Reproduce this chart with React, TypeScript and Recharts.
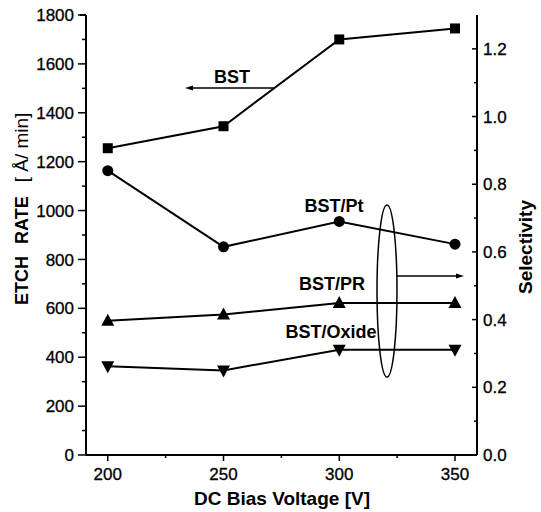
import React from "react";
import { LineChart, Line, XAxis, YAxis, Customized } from "recharts";

const voltages = [200, 250, 300, 350];
const bstRate = [1255, 1345, 1700, 1745];
const bstPt = [0.84, 0.615, 0.69, 0.623];
const bstPr = [0.397, 0.415, 0.449, 0.449];
const bstOxide = [0.262, 0.25, 0.311, 0.311];

const xTicks = [200, 225, 250, 275, 300, 325, 350];
const xMajor = [200, 250, 300, 350];
const leftTicks = [0, 100, 200, 300, 400, 500, 600, 700, 800, 900, 1000, 1100, 1200, 1300, 1400, 1500, 1600, 1700, 1800];
const rightTicks = [0, 0.1, 0.2, 0.3, 0.4, 0.5, 0.6, 0.7, 0.8, 0.9, 1.0, 1.1, 1.2];
const rightMajor = [0, 0.2, 0.4, 0.6, 0.8, 1.0, 1.2];

const data = voltages.map((v, i) => ({
  v,
  bst: bstRate[i],
  pt: bstPt[i],
  pr: bstPr[i],
  ox: bstOxide[i],
}));

const FONT = "'Liberation Sans', Arial, Helvetica, sans-serif";

const isMajor = (list: number[], v: number) => list.some((m) => Math.abs(m - v) < 1e-6);

const BottomTick = (p: any) => {
  const major = isMajor(xMajor, p.payload.value);
  return (
    <g>
      <line x1={p.x} x2={p.x} y1={p.y} y2={p.y + (major ? 6 : 3)} stroke="#000" strokeWidth={1.5} />
      {major && (
        <text x={p.x} y={p.y + 13} dy="0.71em" textAnchor="middle" fontSize={17} fontFamily={FONT} fill="#000" stroke="#000" strokeWidth={0.3}>
          {p.payload.value}
        </text>
      )}
    </g>
  );
};

const TopTick = (p: any) => {
  const major = isMajor(xMajor, p.payload.value);
  return <line x1={p.x} x2={p.x} y1={p.y} y2={p.y - (major ? 9 : 3)} stroke="#000" strokeWidth={1.5} />;
};

const LeftTick = (p: any) => {
  const major = p.payload.value % 200 === 0;
  return (
    <g>
      <line x1={p.x - (major ? 8 : 4)} x2={p.x} y1={p.y} y2={p.y} stroke="#000" strokeWidth={1.5} />
      {major && (
        <text x={p.x - 12} y={p.y} dy="0.36em" textAnchor="end" fontSize={17} fontFamily={FONT} fill="#000" stroke="#000" strokeWidth={0.3}>
          {p.payload.value}
        </text>
      )}
    </g>
  );
};

const RightTick = (p: any) => {
  const major = isMajor(rightMajor, p.payload.value);
  return (
    <g>
      <line x1={p.x - (major ? 5 : 3)} x2={p.x} y1={p.y} y2={p.y} stroke="#000" strokeWidth={1.5} />
      {major && (
        <text x={p.x + 6} y={p.y} dy="0.36em" textAnchor="start" fontSize={17} fontFamily={FONT} fill="#000" stroke="#000" strokeWidth={0.3}>
          {Number(p.payload.value).toFixed(1)}
        </text>
      )}
    </g>
  );
};

const Square = (p: any) => (
  <rect key={`s${p.index}`} x={p.cx - 5} y={p.cy - 5} width={10} height={10} fill="#000" />
);
const Circle = (p: any) => <circle key={`c${p.index}`} cx={p.cx} cy={p.cy} r={5.5} fill="#000" />;
const TriUp = (p: any) => (
  <polygon
    key={`u${p.index}`}
    points={`${p.cx - 6.5},${p.cy + 5} ${p.cx + 6.5},${p.cy + 5} ${p.cx},${p.cy - 7}`}
    fill="#000"
  />
);
const TriDown = (p: any) => (
  <polygon
    key={`d${p.index}`}
    points={`${p.cx - 6.5},${p.cy - 5} ${p.cx + 6.5},${p.cy - 5} ${p.cx},${p.cy + 7}`}
    fill="#000"
  />
);

const Annotations = () => (
  <g fontFamily={FONT} fill="#000">
    <line x1={80} y1={15} x2={86} y2={15} stroke="#000" strokeWidth={2} />
    <text x={232} y={83} fontSize={18} fontWeight="bold" textAnchor="middle">BST</text>
    <line x1={275} y1={88} x2={190} y2={88} stroke="#000" strokeWidth={1.5} />
    <polygon points="185,88 193,85.5 193,90.5" fill="#000" />
    <text x={334} y={212} fontSize={18} fontWeight="bold" textAnchor="middle">BST/Pt</text>
    <text x={332} y={290} fontSize={18} fontWeight="bold" textAnchor="middle">BST/PR</text>
    <text x={331} y={338} fontSize={18} fontWeight="bold" textAnchor="middle">BST/Oxide</text>
    <ellipse cx={387} cy={291} rx={10} ry={86} fill="none" stroke="#000" strokeWidth={1.5} />
    <line x1={397} y1={276} x2={458} y2={276} stroke="#000" strokeWidth={1.5} />
    <polygon points="464,276 456,273.5 456,278.5" fill="#000" />
    <text
      transform="rotate(-90, 22, 305)"
      x={22}
      y={305}
      dy="0.36em"
      textAnchor="start"
      fontSize={18}
      fill="#000"
    >
      <tspan fontWeight="bold">ETCH</tspan>
      <tspan fontWeight="bold" dx={12}>RATE</tspan>
      <tspan dx={14} fontSize={19}>[ Å/ min]</tspan>
    </text>
    <text
      transform="rotate(-90, 525, 247)"
      x={525}
      y={247}
      dy="0.36em"
      textAnchor="middle"
      fontSize={19}
      fontWeight="bold"
    >
      Selectivity
    </text>
    <text x={282} y={505} fontSize={19} fontWeight="bold" textAnchor="middle">DC Bias Voltage [V]</text>
  </g>
);

export default function App() {
  return (
    <div style={{ position: "absolute", left: 0, top: 0, background: "#fff" }}>
      <LineChart width={541} height={512} data={data} margin={{ top: 15, right: 0, bottom: 0, left: 0 }}>
        <XAxis
          dataKey="v"
          type="number"
          domain={[190.6, 359.5]}
          ticks={xTicks}
          interval={0}
          tick={<BottomTick />}
          tickLine={false}
          tickSize={0}
          tickMargin={0}
          axisLine={{ stroke: "#000", strokeWidth: 2 }}
          height={57}
        />
        <XAxis
          xAxisId="top"
          dataKey="v"
          type="number"
          orientation="top"
          domain={[190.6, 359.5]}
          ticks={xTicks}
          interval={0}
          tick={<TopTick />}
          tickLine={false}
          tickSize={0}
          tickMargin={0}
          axisLine={{ stroke: "#000", strokeWidth: 2 }}
          height={0}
        />
        <YAxis
          yAxisId="left"
          type="number"
          domain={[0, 1800]}
          ticks={leftTicks}
          interval={0}
          tick={<LeftTick />}
          tickLine={false}
          tickSize={0}
          tickMargin={0}
          axisLine={{ stroke: "#000", strokeWidth: 2 }}
          width={86}
        />
        <YAxis
          yAxisId="right"
          orientation="right"
          type="number"
          domain={[0, 1.3]}
          ticks={rightTicks}
          interval={0}
          tick={<RightTick />}
          tickLine={false}
          tickSize={0}
          tickMargin={0}
          axisLine={{ stroke: "#000", strokeWidth: 2 }}
          width={64}
        />
        <Line yAxisId="left" dataKey="bst" stroke="#000" strokeWidth={2} dot={Square} isAnimationActive={false} />
        <Line yAxisId="right" dataKey="pt" stroke="#000" strokeWidth={2} dot={Circle} isAnimationActive={false} />
        <Line yAxisId="right" dataKey="pr" stroke="#000" strokeWidth={2} dot={TriUp} isAnimationActive={false} />
        <Line yAxisId="right" dataKey="ox" stroke="#000" strokeWidth={2} dot={TriDown} isAnimationActive={false} />
        <Customized component={Annotations} />
      </LineChart>
    </div>
  );
}
